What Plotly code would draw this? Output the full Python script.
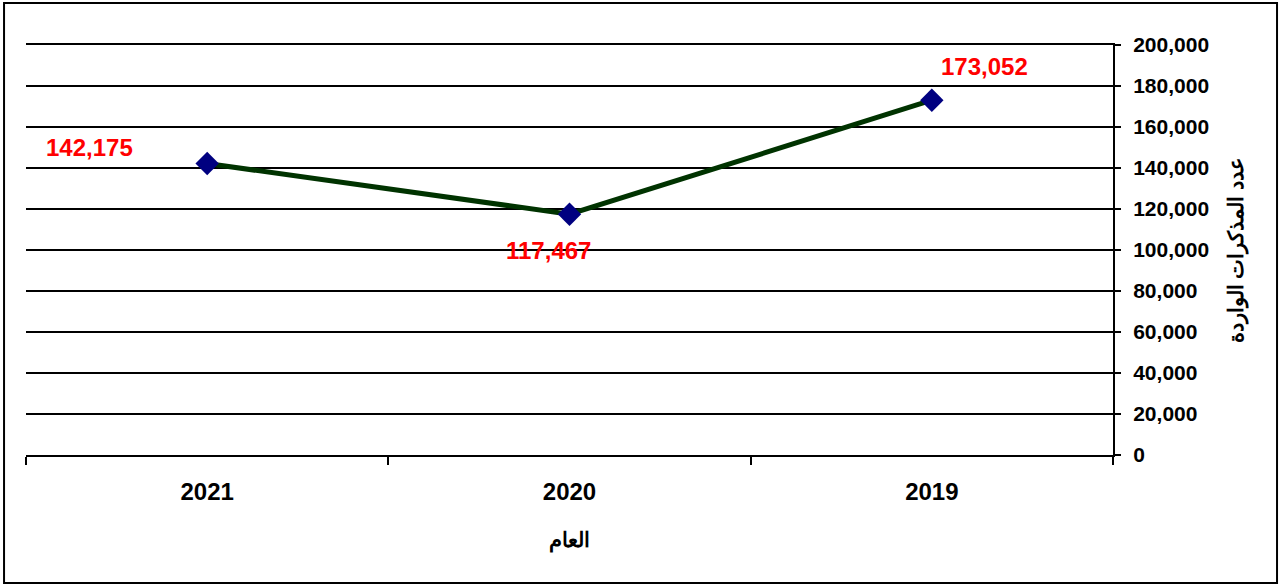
import plotly.graph_objects as go

# Data (years shown right-to-left as in the original)
years = ["2021", "2020", "2019"]
memos = [142175, 117467, 173052]

# per-point label offsets (pixels)
label_dx = [-118, -21, 53]
label_dy = [16, -36, 34]

y_ticks = list(range(0, 200001, 20000))

fig = go.Figure()

fig.add_trace(
    go.Scatter(
        x=years,
        y=memos,
        mode="lines+markers",
        line=dict(color="#003300", width=5),
        marker=dict(symbol="diamond", size=18, color="#000080"),
        hoverinfo="x+y",
        showlegend=False,
    )
)

# data labels (category index used for x so "2021" isn't read as a number)
for i, (v, dx, dy) in enumerate(zip(memos, label_dx, label_dy)):
    fig.add_annotation(
        x=i, y=v, text=f"<b>{v:,}</b>", showarrow=False,
        xshift=dx, yshift=dy,
        font=dict(family="Liberation Sans, Arial", size=24, color="#ff0000"),
    )

# outer chart border
fig.add_shape(
    type="rect", xref="paper", yref="paper",
    x0=-0.0202, x1=1.1509, y0=-0.3122, y1=1.1024,
    line=dict(color="black", width=2), fillcolor="rgba(0,0,0,0)",
)

fig.update_layout(
    width=1280,
    height=585,
    margin=dict(l=26, r=167, t=45, b=130),
    paper_bgcolor="white",
    plot_bgcolor="white",
    font=dict(family="Liberation Sans, Arial", color="black"),
)

fig.update_xaxes(
    type="category",
    range=[-0.5, 2.5],
    showgrid=False,
    showline=True, linecolor="black", linewidth=2, mirror=True,
    ticks="outside", tickson="boundaries", ticklen=8, tickwidth=1.5, tickcolor="black",
    tickfont=dict(size=24, weight="bold"),
    ticklabelstandoff=14,
    title=dict(text="العام", font=dict(size=21, weight="bold"), standoff=29),
)

fig.update_yaxes(
    side="right",
    range=[0, 200000],
    tickvals=y_ticks,
    tickformat=",",
    showgrid=True, gridcolor="black", gridwidth=2,
    zeroline=False,
    showline=True, linecolor="black", linewidth=2,
    ticks="outside", ticklen=6, tickwidth=2, tickcolor="black",
    tickfont=dict(size=21, weight="bold"),
    ticklabelstandoff=8,
    title=dict(text="عدد المذكرات الواردة", font=dict(size=21, weight="bold"), standoff=20),
)

fig.write_html(
    "out.html",
    config={"displayModeBar": False},
    post_script="document.body.style.margin='0';",
)
